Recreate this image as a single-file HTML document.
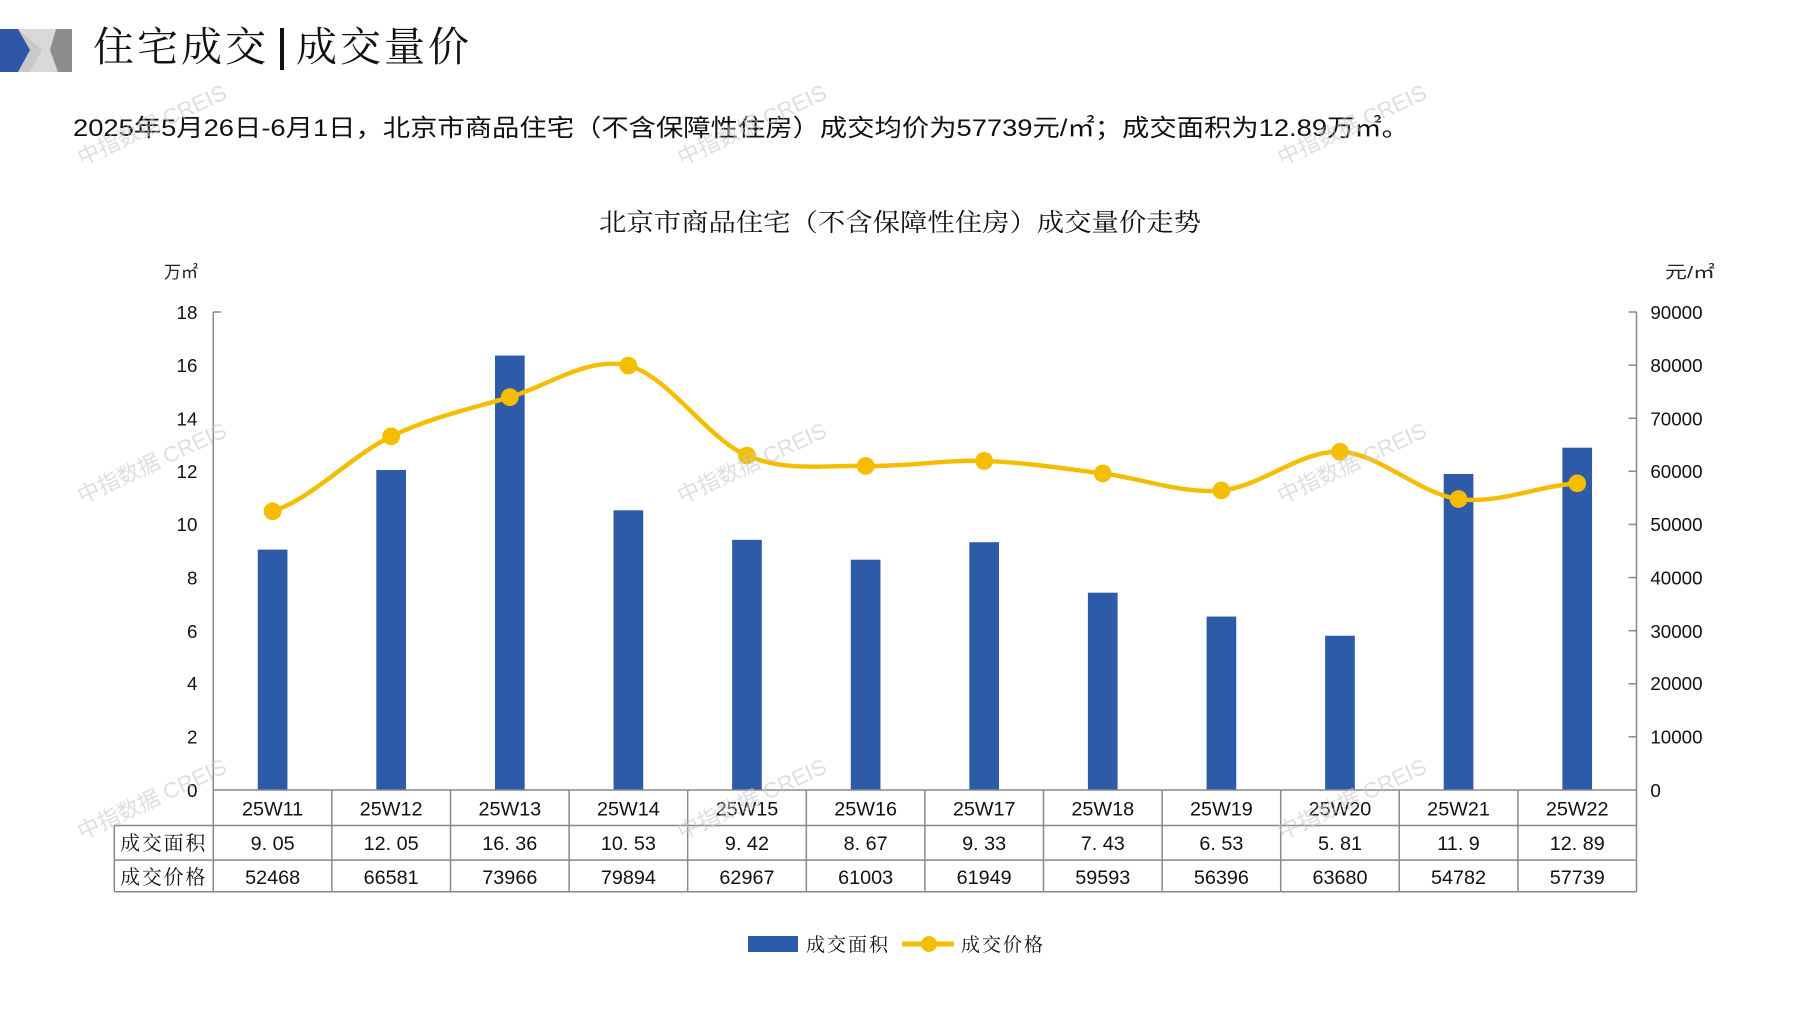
<!DOCTYPE html>
<html><head><meta charset="utf-8"><style>
html,body{margin:0;padding:0;background:#fff;width:1797px;height:1010px;overflow:hidden}
svg text{font-family:"Liberation Sans","Noto Sans CJK SC",sans-serif}
.cj{font-family:"Noto Serif CJK SC","Noto Sans CJK SC",serif}
</style></head><body>
<svg width="1797" height="1010" viewBox="0 0 1797 1010" xmlns="http://www.w3.org/2000/svg">
<!-- logo -->
<polygon points="0,29 72,29 72,72 0,72" fill="#c8c8c8"/>
<polygon points="0,29 18,29 30,50 18,72 0,72" fill="#2f56a6"/>
<polygon points="18,29 72,29 72,50 55,72 30,72 42,50" fill="#d9d9d9"/>
<polygon points="56,29 72,29 72,72 58,72 50,50" fill="#8c8c8c"/>
<text x="93" y="61" font-size="41" class="cj" fill="#111" letter-spacing="3">住宅成交</text>
<rect x="280" y="28" width="4" height="42" fill="#111"/>
<text x="296" y="61" font-size="41" class="cj" fill="#111" letter-spacing="3">成交量价</text>
<text x="73" y="136" font-size="24" fill="#111" textLength="1336" lengthAdjust="spacingAndGlyphs">2025年5月26日-6月1日，北京市商品住宅（不含保障性住房）成交均价为57739元/㎡；成交面积为12.89万㎡。</text>
<text x="900" y="231" font-size="25" fill="#111" text-anchor="middle" class="cj" textLength="602" lengthAdjust="spacingAndGlyphs">北京市商品住宅（不含保障性住房）成交量价走势</text>
<text x="164" y="278" font-size="17" fill="#222">万㎡</text>
<text x="1665" y="278" font-size="17" fill="#222" textLength="50" lengthAdjust="spacingAndGlyphs">元/㎡</text>
<g transform="matrix(0.98971,0,0,0.9876,-0.477,0.906)">
<!-- axes -->
<g stroke="#888" stroke-width="1.5">
<line x1="216" y1="315" x2="216" y2="799"/>
<line x1="1654" y1="315" x2="1654" y2="799"/>
<line x1="216" y1="315" x2="224" y2="315"/>
<line x1="1646" y1="315" x2="1654" y2="315"/><line x1="1646" y1="368.8" x2="1654" y2="368.8"/><line x1="1646" y1="422.6" x2="1654" y2="422.6"/><line x1="1646" y1="476.3" x2="1654" y2="476.3"/><line x1="1646" y1="530.1" x2="1654" y2="530.1"/><line x1="1646" y1="583.9" x2="1654" y2="583.9"/><line x1="1646" y1="637.7" x2="1654" y2="637.7"/><line x1="1646" y1="691.4" x2="1654" y2="691.4"/><line x1="1646" y1="745.2" x2="1654" y2="745.2"/>
</g>
<g font-size="19" fill="#111" text-anchor="end">
<text x="200" y="322">18</text><text x="200" y="376">16</text><text x="200" y="430">14</text><text x="200" y="483">12</text><text x="200" y="537">10</text><text x="200" y="591">8</text><text x="200" y="645">6</text><text x="200" y="698">4</text><text x="200" y="752">2</text><text x="200" y="806">0</text>
</g>
<g font-size="19" fill="#111">
<text x="1668" y="322">90000</text><text x="1668" y="376">80000</text><text x="1668" y="430">70000</text><text x="1668" y="483">60000</text><text x="1668" y="537">50000</text><text x="1668" y="591">40000</text><text x="1668" y="645">30000</text><text x="1668" y="698">20000</text><text x="1668" y="752">10000</text><text x="1668" y="806">0</text>
</g>
<!-- bars -->
<g fill="#2e5ba8">
<rect x="260.9" y="555.6" width="30" height="243.4"/>
<rect x="380.7" y="475.0" width="30" height="324"/>
<rect x="500.6" y="359.1" width="30" height="439.9"/>
<rect x="620.4" y="515.8" width="30" height="283.2"/>
<rect x="740.2" y="545.7" width="30" height="253.3"/>
<rect x="860.1" y="565.8" width="30" height="233.2"/>
<rect x="979.9" y="548.1" width="30" height="250.9"/>
<rect x="1099.7" y="599.2" width="30" height="199.8"/>
<rect x="1219.6" y="623.4" width="30" height="175.6"/>
<rect x="1339.4" y="642.8" width="30" height="156.2"/>
<rect x="1459.2" y="479.0" width="30" height="320"/>
<rect x="1579.1" y="452.4" width="30" height="346.6"/>
</g>
<path d="M275.9,516.8 C315.8,504.2 355.8,460.2 395.7,440.9 C435.6,421.6 475.7,413.1 515.6,401.2 C555.5,389.3 595.5,359.4 635.4,369.3 C675.3,379.2 715.3,443.5 755.2,460.4 C795.1,477.3 835.2,470.0 875.1,470.9 C915.0,471.8 955.0,464.5 994.9,465.8 C1034.8,467.1 1074.8,473.5 1114.7,478.5 C1154.6,483.5 1194.7,499.4 1234.6,495.7 C1274.5,492.0 1314.5,455.0 1354.4,456.5 C1394.3,458.0 1434.3,499.1 1474.2,504.4 C1514.1,509.7 1554.2,491.2 1594.1,488.5" fill="none" stroke="#f5bd00" stroke-width="4.5"/>
<g fill="#f5bd00">
<circle cx="275.9" cy="516.8" r="9"/><circle cx="395.7" cy="440.9" r="9"/><circle cx="515.6" cy="401.2" r="9"/><circle cx="635.4" cy="369.3" r="9"/><circle cx="755.2" cy="460.4" r="9"/><circle cx="875.1" cy="470.9" r="9"/><circle cx="994.9" cy="465.8" r="9"/><circle cx="1114.7" cy="478.5" r="9"/><circle cx="1234.6" cy="495.7" r="9"/><circle cx="1354.4" cy="456.5" r="9"/><circle cx="1474.2" cy="504.4" r="9"/><circle cx="1594.1" cy="488.5" r="9"/>
</g>
<!-- table -->
<g stroke="#888" stroke-width="1.5" fill="none">
<line x1="216" y1="799" x2="1654" y2="799"/>
<line x1="116" y1="835" x2="1654" y2="835"/>
<line x1="116" y1="870" x2="1654" y2="870"/>
<line x1="116" y1="902" x2="1654" y2="902"/>
<line x1="116" y1="835" x2="116" y2="902"/>
<line x1="216" y1="799" x2="216" y2="902"/>
<line x1="335.8" y1="799" x2="335.8" y2="902"/><line x1="455.7" y1="799" x2="455.7" y2="902"/><line x1="575.5" y1="799" x2="575.5" y2="902"/><line x1="695.3" y1="799" x2="695.3" y2="902"/><line x1="815.2" y1="799" x2="815.2" y2="902"/><line x1="935" y1="799" x2="935" y2="902"/><line x1="1054.8" y1="799" x2="1054.8" y2="902"/><line x1="1174.7" y1="799" x2="1174.7" y2="902"/><line x1="1294.5" y1="799" x2="1294.5" y2="902"/><line x1="1414.3" y1="799" x2="1414.3" y2="902"/><line x1="1534.2" y1="799" x2="1534.2" y2="902"/>
<line x1="1654" y1="799" x2="1654" y2="902"/>
</g>
<g font-size="20" fill="#111" text-anchor="middle">
<text x="275.9" y="825">25W11</text><text x="395.7" y="825">25W12</text><text x="515.6" y="825">25W13</text><text x="635.4" y="825">25W14</text><text x="755.2" y="825">25W15</text><text x="875.1" y="825">25W16</text><text x="994.9" y="825">25W17</text><text x="1114.7" y="825">25W18</text><text x="1234.6" y="825">25W19</text><text x="1354.4" y="825">25W20</text><text x="1474.2" y="825">25W21</text><text x="1594.1" y="825">25W22</text>
<text x="275.9" y="860">9. 05</text><text x="395.7" y="860">12. 05</text><text x="515.6" y="860">16. 36</text><text x="635.4" y="860">10. 53</text><text x="755.2" y="860">9. 42</text><text x="875.1" y="860">8. 67</text><text x="994.9" y="860">9. 33</text><text x="1114.7" y="860">7. 43</text><text x="1234.6" y="860">6. 53</text><text x="1354.4" y="860">5. 81</text><text x="1474.2" y="860">11. 9</text><text x="1594.1" y="860">12. 89</text>
<text x="275.9" y="894">52468</text><text x="395.7" y="894">66581</text><text x="515.6" y="894">73966</text><text x="635.4" y="894">79894</text><text x="755.2" y="894">62967</text><text x="875.1" y="894">61003</text><text x="994.9" y="894">61949</text><text x="1114.7" y="894">59593</text><text x="1234.6" y="894">56396</text><text x="1354.4" y="894">63680</text><text x="1474.2" y="894">54782</text><text x="1594.1" y="894">57739</text>
<text x="166" y="860" class="cj" letter-spacing="2">成交面积</text>
<text x="166" y="894" class="cj" letter-spacing="2">成交价格</text>
</g>
</g>
<!-- legend -->
<rect x="748" y="936" width="50" height="16" fill="#2e5ba8"/>
<text x="806" y="951" font-size="19" fill="#111" class="cj" letter-spacing="2">成交面积</text>
<line x1="902" y1="944" x2="954" y2="944" stroke="#f5bd00" stroke-width="5"/>
<circle cx="929" cy="944" r="8" fill="#f5bd00"/>
<text x="961" y="951" font-size="19" fill="#111" class="cj" letter-spacing="2">成交价格</text>
<!-- watermarks -->
<g font-size="22" fill="#c8c8c8" fill-opacity="0.6">
<text transform="translate(82,166) rotate(-25)">中指数据 CREIS</text>
<text transform="translate(682,166) rotate(-25)">中指数据 CREIS</text>
<text transform="translate(1282,166) rotate(-25)">中指数据 CREIS</text>
<text transform="translate(82,504) rotate(-25)">中指数据 CREIS</text>
<text transform="translate(682,504) rotate(-25)">中指数据 CREIS</text>
<text transform="translate(1282,504) rotate(-25)">中指数据 CREIS</text>
<text transform="translate(82,840) rotate(-25)">中指数据 CREIS</text>
<text transform="translate(682,840) rotate(-25)">中指数据 CREIS</text>
<text transform="translate(1282,840) rotate(-25)">中指数据 CREIS</text>
</g>
</svg>
</body></html>
